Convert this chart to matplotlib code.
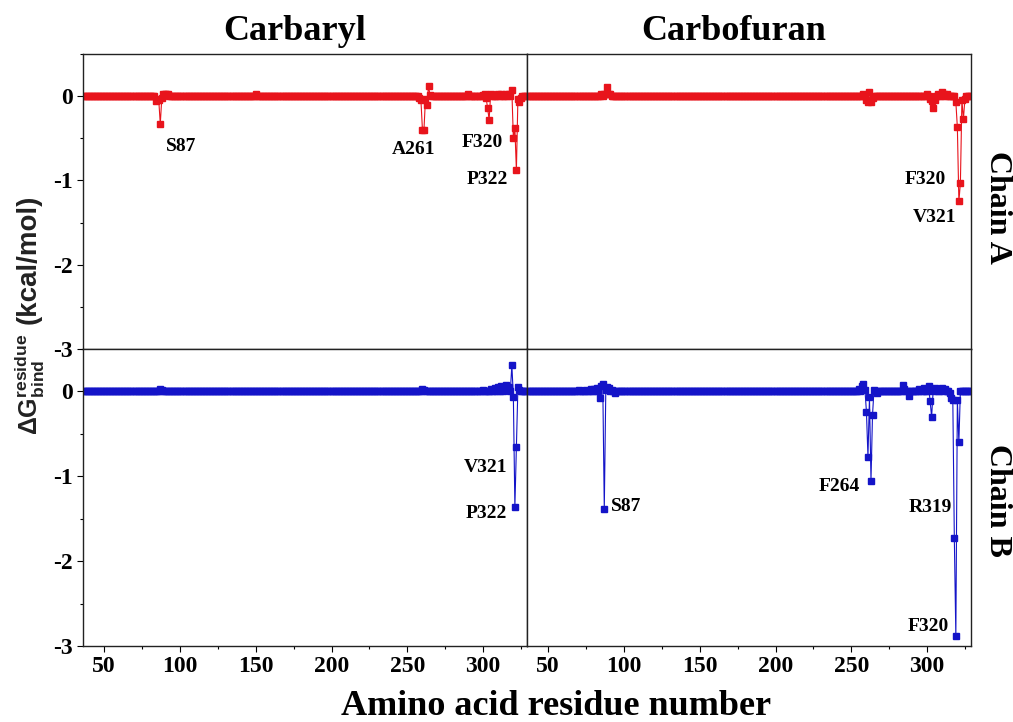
import numpy as np
import matplotlib
matplotlib.use("Agg")
import matplotlib.pyplot as plt
from matplotlib.ticker import MultipleLocator

plt.rcParams['font.family'] = ['Liberation Serif', 'DejaVu Serif']
plt.rcParams['font.weight'] = 'bold'
plt.rcParams['mathtext.fontset'] = 'custom'
plt.rcParams['mathtext.rm'] = 'Liberation Sans'
plt.rcParams['mathtext.bf'] = 'Liberation Sans:bold'
plt.rcParams['mathtext.it'] = 'Liberation Sans:italic'

# residue numbers shown on the x axis
residues = np.arange(36, 330)

# read-off values (residue, kcal/mol); all other residues sit at 0
carbaryl_A_res = [84, 85, 86, 87, 88, 89, 90, 91, 92, 150, 258, 259, 260, 261, 262, 263, 264, 265,
                  290, 300, 301, 302, 303, 304, 305, 310, 312, 315, 317, 319, 320, 321, 322, 323, 324, 325]
carbaryl_A_val = [-0.06, -0.03, -0.05, -0.33, -0.02, 0.03, 0.02, 0.03, 0.02, 0.02, -0.02, -0.05, -0.40, -0.40,
                  -0.03, -0.10, 0.12, 0.01, 0.02, 0.01, 0.02, -0.02, -0.14, -0.28, 0.02, 0.02, 0.03, 0.03,
                  0.02, 0.07, -0.50, -0.38, -0.88, -0.03, -0.07, -0.02]

carbofuran_A_res = [85, 87, 88, 89, 90, 91, 258, 260, 261, 262, 263, 264, 300, 302, 303, 304, 305, 307,
                    310, 311, 313, 319, 320, 321, 322, 323, 324, 325]
carbofuran_A_val = [0.02, 0.03, 0.02, 0.11, 0.02, 0.03, 0.02, -0.04, -0.07, 0.05, -0.07, -0.02, 0.02, -0.03,
                    -0.06, -0.14, -0.05, 0.02, 0.05, 0.03, 0.02, -0.07, -0.37, -1.25, -1.03, -0.05, -0.27, -0.03]

carbaryl_B_res = [87, 88, 150, 260, 261, 300, 305, 308, 310, 312, 314, 315, 316, 317, 319, 320, 321, 322, 323, 324]
carbaryl_B_val = [0.03, 0.02, 0.01, 0.03, 0.02, 0.02, 0.03, 0.04, 0.05, 0.06, 0.05, 0.07, 0.04, 0.05,
                  0.31, -0.06, -1.36, -0.66, 0.05, 0.02]

carbofuran_B_res = [70, 75, 78, 80, 82, 84, 85, 86, 87, 88, 89, 90, 92, 94, 255, 257, 258, 259, 260, 261,
                    262, 263, 264, 265, 267, 284, 285, 288, 295, 298, 301, 302, 303, 305, 306, 309, 310,
                    312, 315, 316, 317, 318, 319, 320, 321, 322, 324]
carbofuran_B_val = [0.02, 0.02, 0.03, 0.03, 0.04, -0.08, 0.06, 0.09, -1.38, 0.02, 0.05, 0.04, 0.02, -0.02,
                    0.03, 0.06, 0.09, 0.02, -0.24, -0.77, -0.07, -1.05, -0.28, 0.02, -0.02, 0.07, 0.03,
                    -0.05, 0.03, 0.04, 0.06, -0.11, -0.30, 0.04, 0.03, 0.03, 0.04, 0.03, -0.02, -0.08,
                    -0.10, -1.73, -2.88, -0.10, -0.60, 0.01, 0.01]

# labels: (text, residue, value)
labels_carbaryl_A = [("S87", 101, -0.60), ("A261", 254, -0.63), ("F320", 299.7, -0.55), ("P322", 303, -0.99)]
labels_carbofuran_A = [("F320", 298.7, -0.99), ("V321", 305, -1.44)]
labels_carbaryl_B = [("V321", 301.6, -0.90), ("P322", 302.2, -1.44)]
labels_carbofuran_B = [("S87", 101.5, -1.36), ("F264", 242, -1.12), ("R319", 302.3, -1.37), ("F320", 300.8, -2.77)]

red = '#e8141c'
blue = '#1414c8'


def profile(res, val):
    y = np.zeros(len(residues))
    for r, v in zip(res, val):
        y[residues == r] = v
    return y


fig = plt.figure(figsize=(10.13, 7.22), dpi=100)
L, M, R = 83 / 1013, 527 / 1013, 971 / 1013
T, C, B = 1 - 54 / 722, 1 - 349 / 722, 1 - 646 / 722

panels = [
    ([L, C, M - L, T - C], carbaryl_A_res, carbaryl_A_val, red, labels_carbaryl_A, True, False),
    ([M, C, R - M, T - C], carbofuran_A_res, carbofuran_A_val, red, labels_carbofuran_A, False, False),
    ([L, B, M - L, C - B], carbaryl_B_res, carbaryl_B_val, blue, labels_carbaryl_B, True, True),
    ([M, B, R - M, C - B], carbofuran_B_res, carbofuran_B_val, blue, labels_carbofuran_B, False, True),
]

for rect, res, val, col, labs, left, bottom in panels:
    ax = fig.add_axes(rect)
    ax.plot(residues, profile(res, val), '-', color=col, lw=0.8, marker='s', ms=3.8,
            mec=col, mfc=col)
    ax.set_xlim(36, 329)
    ax.set_ylim(-3, 0.5)
    ax.xaxis.set_major_locator(MultipleLocator(50))
    ax.xaxis.set_minor_locator(MultipleLocator(25))
    ax.yaxis.set_major_locator(MultipleLocator(1))
    ax.yaxis.set_minor_locator(MultipleLocator(0.5))
    ax.tick_params(which='both', direction='out', top=False, right=False,
                   left=left, bottom=bottom, labelleft=left, labelbottom=bottom,
                   labelsize=17, width=0.8)
    ax.tick_params(which='major', length=4)
    ax.tick_params(which='minor', length=2.5)
    ax.yaxis.set_major_formatter(plt.FuncFormatter(lambda v, p: f"{int(v)}"))
    for s in ax.spines.values():
        s.set_color('#222222')
        s.set_linewidth(1.0)
    for t, x, y in labs:
        ax.text(x, y, t, fontsize=14, fontweight='bold', ha='center', va='center')

fig.text(295 / 1013, 1 - 32 / 722, "Carbaryl", fontsize=26, fontweight='bold', ha='center', va='center')
fig.text(734 / 1013, 1 - 32 / 722, "Carbofuran", fontsize=26, fontweight='bold', ha='center', va='center')
fig.text(556 / 1013, 1 - 715 / 722, "Amino acid residue number", fontsize=26, fontweight='bold',
         ha='center', va='baseline')
fig.text(997 / 1013, 1 - 207 / 722, "Chain A", fontsize=23, fontweight='bold', rotation=-90,
         ha='center', va='center')
fig.text(997 / 1013, 1 - 500 / 722, "Chain B", fontsize=23, fontweight='bold', rotation=-90,
         ha='center', va='center')
# y axis label in two pieces (sans serif, like the source)
fig.text(29 / 1013, 1 - 259 / 722, "(kcal/mol)", family='Liberation Sans', fontsize=20,
         fontweight='bold', rotation=90, ha='center', va='center', color='#222222')
fig.text(30 / 1013, 1 - 384 / 722, r"$\Delta\mathbf{G}^{\mathrm{residue}}_{\mathrm{bind}}$",
         family='Liberation Sans', fontsize=18, rotation=90, ha='center', va='center', color='#222222')

fig.savefig("out.png", dpi=100)
